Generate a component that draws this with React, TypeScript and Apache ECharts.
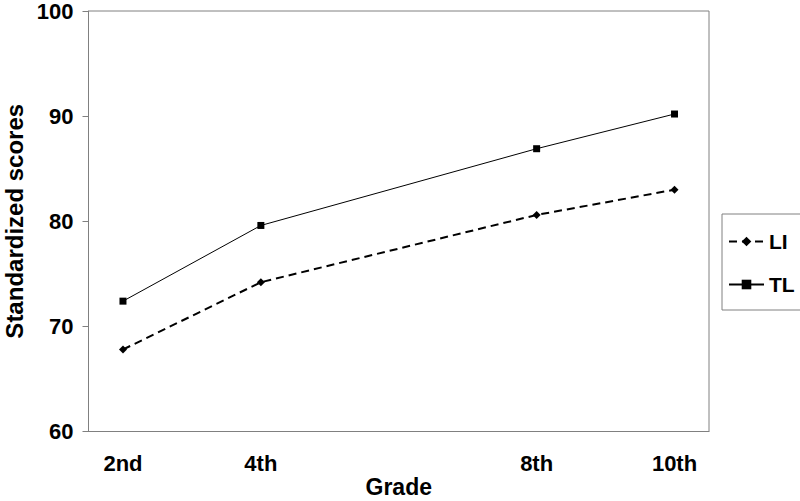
import React, { useEffect, useRef } from "react";
import * as echarts from "echarts";

const grades = [2, 4, 8, 10];
const gradeLabels = ["2nd", "4th", "8th", "10th"];
const liScores = [67.8, 74.2, 80.6, 83.0];
const tlScores = [72.4, 79.6, 86.9, 90.2];
const seriesNames = ["LI", "TL"];

const FONT = "'Liberation Sans', Arial, sans-serif";

export default function App() {
  const ref = useRef<HTMLDivElement>(null);
  useEffect(() => {
    if (!ref.current) return;
    const chart = echarts.init(ref.current, undefined, { renderer: "svg" });
    const labelMap: Record<string, string> = {};
    grades.forEach((g, i) => (labelMap[String(g)] = gradeLabels[i]));
    chart.setOption({
      animation: false,
      backgroundColor: "#ffffff",
      textStyle: { fontFamily: FONT },
      grid: {
        left: 88.5,
        top: 11,
        right: 91,
        bottom: 69.5,
        containLabel: false,
        outerBoundsMode: "none",
        show: true,
        borderColor: "#808080",
        borderWidth: 1,
      },
      legend: {
        orient: "vertical",
        left: 722,
        top: 214,
        width: 78,
        padding: [17, 6, 15, 6],
        itemGap: 22,
        itemWidth: 35,
        itemHeight: 12,
        borderColor: "#808080",
        borderWidth: 1,
        textStyle: { fontSize: 21, fontWeight: "bold", color: "#000", fontFamily: FONT },
        data: seriesNames,
      },
      xAxis: {
        type: "value",
        min: 1.5,
        max: 10.5,
        interval: 0.5,
        name: "Grade",
        nameLocation: "middle",
        nameGap: 44,
        nameMoveOverlap: false,
        nameTextStyle: { fontSize: 23, fontWeight: "bold", color: "#000", fontFamily: FONT },
        axisLine: { show: true, lineStyle: { color: "#808080", width: 1 } },
        axisTick: { show: false },
        splitLine: { show: false },
        axisLabel: {
          margin: 21,
          fontSize: 22,
          fontWeight: "bold",
          color: "#000",
          fontFamily: FONT,
          formatter: (v: number) => labelMap[String(v)] || "",
        },
      },
      yAxis: {
        type: "value",
        min: 60,
        max: 100,
        interval: 10,
        name: "Standardized scores",
        nameLocation: "middle",
        nameGap: 62,
        nameMoveOverlap: false,
        nameTextStyle: { fontSize: 24, fontWeight: "bold", color: "#000", fontFamily: FONT },
        axisLine: { show: true, lineStyle: { color: "#808080", width: 1 } },
        axisTick: { show: true, inside: false, length: 6, lineStyle: { color: "#808080" } },
        splitLine: { show: false },
        axisLabel: { margin: 15, fontSize: 22, fontWeight: "bold", color: "#000", fontFamily: FONT },
      },
      series: [
        {
          name: seriesNames[0],
          type: "line",
          data: grades.map((g, i) => [g, liScores[i]]),
          symbol: "diamond",
          symbolSize: 8,
          itemStyle: { color: "#000" },
          lineStyle: { color: "#000", width: 2, type: [8, 5] },
        },
        {
          name: seriesNames[1],
          type: "line",
          data: grades.map((g, i) => [g, tlScores[i]]),
          symbol: "rect",
          symbolSize: 7,
          itemStyle: { color: "#000" },
          lineStyle: { color: "#000", width: 1, type: "solid" },
        },
      ],
    });
    return () => chart.dispose();
  }, []);
  return (
    <div
      ref={ref}
      style={{ position: "fixed", left: 0, top: 0, width: 800, height: 501, background: "#fff" }}
    />
  );
}
